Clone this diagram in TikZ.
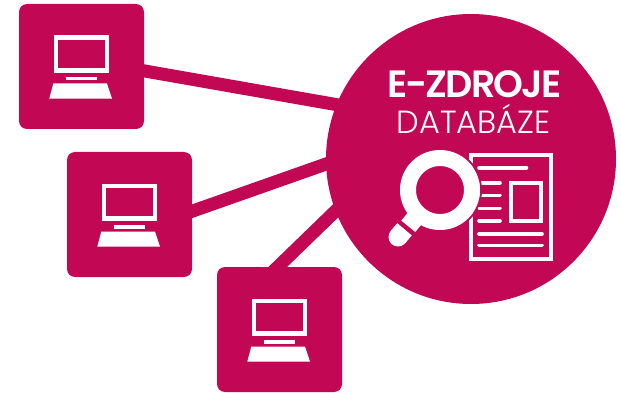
\documentclass[tikz,border=0pt]{standalone}
\usepackage{fontspec}
\newfontfamily\headfont[LetterSpace=-5]{Poppins SemiBold}
\newfontfamily\subfont{Poppins Light}
\definecolor{brand}{HTML}{C20855}
\tikzset{
  pc/.style={fill=brand,rounded corners=8pt,minimum size=125pt,inner sep=0pt,draw=none},
  link/.style={draw=brand,line width=13pt,shorten <=-8pt,shorten >=-8pt},
  iconline/.style={draw=white,line width=3.6pt,line cap=round},
  iconbox/.style={draw=white,line width=4pt},
}
\newcommand{\pcicon}[2]{%
  \begin{scope}[shift={(#1,#2)}]
    \draw[white,line width=4.6pt] (36.8,33.8) rectangle (88.1,66.4);
    \fill[white] (47,73) rectangle (78,76.5);
    \fill[white] (34.3,79.5) -- (88,79.5) -- (93,94.7) -- (30.3,94.7) -- cycle;
  \end{scope}}
\begin{document}
\begin{tikzpicture}[x=1pt,y=-1pt]
\useasboundingbox (0,0) rectangle (621,393);
\node[pc] (a) at (81.5,66.5) {};
\node[pc] (b) at (129.5,214.5) {};
\node[pc] (c) at (279.5,329.5) {};
\node[circle,fill=brand,minimum size=290pt,inner sep=0pt] (d) at (471,159) {};
\draw[link] (a.-4.8) -- (d.158.9);
\draw[link] (b.3.5) -- (d.182.7);
\coordinate (ctop) at (277.7,267);
\draw[link] (ctop) -- (d.201);
\pcicon{19}{4}
\pcicon{67}{152}
\pcicon{217}{267}
\node[white,inner sep=0pt,anchor=base,font=\headfont\fontsize{38}{38}\selectfont] (t1) at (474.3,97.3) {E-ZDROJE};
\node[white,inner sep=0pt,anchor=base,font=\subfont\fontsize{32}{32}\selectfont] (t2) at (473.7,133.3) {DATABÁZE};
% document
\draw[iconbox] (471.2,155.3) rectangle (550.9,258.7);
\draw[iconbox] (511.3,182.7) rectangle (541.3,221);
\foreach \y in {182.7,195.3,208.3,221}{\draw[iconline] (479,\y) -- (500,\y);}
\draw[iconline] (479,167.7) -- (526.5,167.7);
\draw[iconline] (479,234) -- (542,234);
\draw[iconline] (479,245.3) -- (542,245.3);
% magnifier
\draw[brand,line width=2pt] (440,190) circle (41);
\draw[white,line width=16pt] (440,190) circle (32);
\draw[white,line width=18pt] (420,212) -- (408.3,226.3);
\draw[white,line width=19pt] (404.5,229.3) -- (398,237);
\fill[white] (398,237) circle (9.5);
\end{tikzpicture}
\end{document}
